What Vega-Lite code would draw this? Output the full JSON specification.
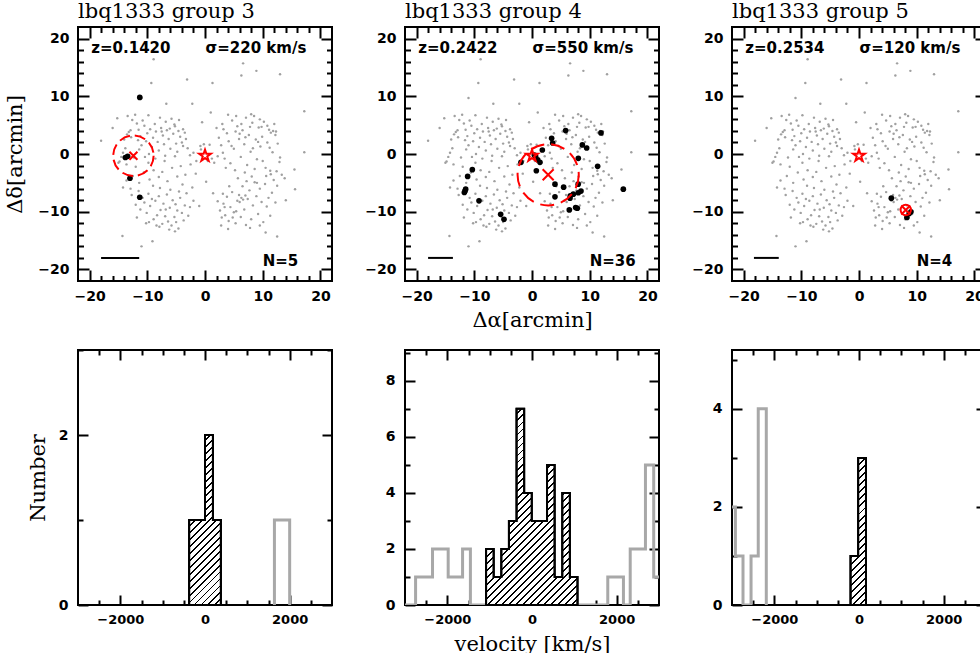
{
"$schema": "https://vega.github.io/schema/vega-lite/v6.json",
"background": "white",
"padding": {"left": 3, "top": 0, "right": 0, "bottom": 0},
"config": {
  "view": {"stroke": "black", "strokeWidth": 2},
  "axis": {"domain": false, "grid": false, "tickColor": "black", "tickWidth": 2, "labelFont": "DejaVu Sans", "labelFontWeight": "bold", "labelFontSize": 14, "labelColor": "black", "labelFlush": false, "labelOverlap": false, "titleFont": "DejaVu Serif", "titleFontSize": 21, "titleFontWeight": "normal", "titleColor": "black", "zindex": 1},
  "title": {"font": "DejaVu Serif", "fontSize": 21, "fontWeight": "normal", "color": "black", "anchor": "start", "frame": "group", "baseline": "alphabetic", "offset": 4}
},
"datasets": {
  "galaxies": [
{"x":-14.8,"y":-1.3},{"x":-14.5,"y":-0.5},{"x":-14.2,"y":0.2},{"x":-13.8,"y":1.0},{"x":-14.0,"y":2.5},{"x":-13.5,"y":3.4},{"x":-13.2,"y":3.8},{"x":-12.9,"y":4.1},{"x":-13.4,"y":6.6},{"x":-12.6,"y":5.9},{"x":-12.1,"y":6.8},{"x":-11.8,"y":5.3},{"x":-11.5,"y":4.2},{"x":-11.2,"y":3.1},{"x":-11.6,"y":2.4},{"x":-11.0,"y":1.5},{"x":-10.8,"y":5.8},{"x":-10.5,"y":4.9},{"x":-10.2,"y":2.2},{"x":-10.0,"y":3.6},{"x":-9.8,"y":6.7},{"x":-9.5,"y":4.3},{"x":-9.2,"y":1.2},{"x":-9.0,"y":2.8},{"x":-8.7,"y":5.2},{"x":-8.5,"y":3.9},{"x":-8.2,"y":2.1},{"x":-8.0,"y":0.6},{"x":-7.8,"y":6.3},{"x":-7.6,"y":4.5},{"x":-7.3,"y":3.2},{"x":-7.1,"y":1.7},{"x":-6.8,"y":5.6},{"x":-6.6,"y":4.1},{"x":-6.3,"y":2.6},{"x":-6.0,"y":0.9},{"x":-5.8,"y":6.1},{"x":-5.5,"y":3.5},{"x":-5.2,"y":4.8},{"x":-5.0,"y":1.8},{"x":-4.8,"y":0.4},{"x":-4.5,"y":5.9},{"x":-4.3,"y":3.0},{"x":-4.0,"y":2.0},{"x":-3.8,"y":4.3},{"x":-3.5,"y":3.7},{"x":-3.3,"y":2.6},{"x":-3.8,"y":1.4},{"x":-6.9,"y":-0.3},{"x":-8.6,"y":-0.8},{"x":-10.4,"y":-0.5},{"x":-12.3,"y":-0.6},{"x":-9.7,"y":0.0},{"x":-11.4,"y":0.8},{"x":-7.5,"y":3.9},{"x":-6.1,"y":4.4},{"x":-5.3,"y":5.1},{"x":-4.6,"y":4.0},{"x":-12.8,"y":2.9},{"x":-13.6,"y":-1.8},{"x":-12.0,"y":-2.2},{"x":-9.8,"y":-1.5},{"x":-7.0,"y":-1.2},{"x":-5.2,"y":-0.4},{"x":-3.0,"y":1.0},{"x":-2.6,"y":-0.2},{"x":-2.0,"y":0.2},{"x":-1.5,"y":-1.2},{"x":-0.8,"y":1.4},{"x":-0.2,"y":1.7},{"x":0.8,"y":1.6},{"x":1.2,"y":-0.8},{"x":1.6,"y":-1.5},{"x":-2.5,"y":-1.8},{"x":0.5,"y":-1.2},
{"x":-13.6,"y":-4.6},{"x":-12.5,"y":-3.8},{"x":-11.4,"y":-5.0},{"x":-10.6,"y":-3.2},{"x":-9.6,"y":-4.4},{"x":-8.9,"y":-2.8},{"x":-8.0,"y":-4.0},{"x":-7.4,"y":-3.1},{"x":-6.5,"y":-4.7},{"x":-5.7,"y":-2.4},{"x":-4.8,"y":-3.9},{"x":-4.2,"y":-2.1},{"x":-3.4,"y":-3.6},{"x":-14.2,"y":-5.8},{"x":-12.9,"y":-6.0},
{"x":-12.7,"y":-7.1},{"x":-12.0,"y":-8.8},{"x":-11.5,"y":-6.4},{"x":-11.2,"y":-9.6},{"x":-10.8,"y":-7.6},{"x":-10.5,"y":-8.4},{"x":-10.1,"y":-10.2},{"x":-9.8,"y":-6.9},{"x":-9.5,"y":-9.0},{"x":-9.2,"y":-7.8},{"x":-8.9,"y":-11.3},{"x":-8.6,"y":-8.1},{"x":-8.3,"y":-10.6},{"x":-8.0,"y":-7.3},{"x":-7.7,"y":-9.7},{"x":-7.4,"y":-12.1},{"x":-7.2,"y":-8.6},{"x":-6.9,"y":-10.8},{"x":-6.6,"y":-7.0},{"x":-6.4,"y":-11.7},{"x":-6.1,"y":-9.3},{"x":-5.8,"y":-12.4},{"x":-5.6,"y":-8.0},{"x":-5.3,"y":-10.9},{"x":-5.0,"y":-11.8},{"x":-4.8,"y":-9.8},{"x":-4.6,"y":-12.9},{"x":-4.3,"y":-7.6},{"x":-4.0,"y":-10.2},{"x":-3.7,"y":-11.5},{"x":-3.5,"y":-8.9},{"x":-3.2,"y":-6.8},{"x":-2.9,"y":-10.7},{"x":-2.6,"y":-9.2},{"x":-11.8,"y":-11.0},{"x":-10.2,"y":-12.0},{"x":-7.9,"y":-12.6},{"x":-6.2,"y":-13.1},{"x":-5.2,"y":-13.4},{"x":-9.0,"y":-5.5},{"x":-7.8,"y":-5.9},{"x":-6.0,"y":-6.2},{"x":-4.5,"y":-6.5},{"x":-3.9,"y":-5.3},{"x":-2.2,"y":-5.8},{"x":-2.0,"y":-8.1},{"x":-8.4,"y":-12.4},{"x":-9.7,"y":-11.8},{"x":-6.8,"y":-9.6},{"x":-5.1,"y":-8.7},
{"x":2.4,"y":2.8},{"x":2.8,"y":1.5},{"x":3.1,"y":0.2},{"x":3.4,"y":-0.8},{"x":3.8,"y":3.6},{"x":4.1,"y":2.2},{"x":4.4,"y":-1.6},{"x":4.7,"y":5.8},{"x":5.0,"y":0.9},{"x":5.3,"y":3.9},{"x":5.6,"y":4.8},{"x":5.9,"y":2.6},{"x":6.2,"y":-0.5},{"x":6.5,"y":4.1},{"x":6.8,"y":1.7},{"x":7.1,"y":6.3},{"x":7.3,"y":-1.9},{"x":7.6,"y":3.3},{"x":7.9,"y":0.4},{"x":8.2,"y":5.4},{"x":8.5,"y":6.6},{"x":8.8,"y":2.5},{"x":9.0,"y":-0.9},{"x":9.3,"y":4.6},{"x":9.6,"y":1.3},{"x":9.9,"y":3.0},{"x":10.2,"y":5.6},{"x":10.5,"y":-2.4},{"x":10.8,"y":2.0},{"x":11.1,"y":4.2},{"x":11.4,"y":3.7},{"x":11.7,"y":0.3},{"x":12.0,"y":5.2},{"x":12.3,"y":3.9},{"x":12.6,"y":1.8},{"x":12.9,"y":-1.4},{"x":13.3,"y":-3.6},{"x":2.0,"y":4.5},{"x":3.0,"y":5.2},{"x":4.0,"y":6.8},{"x":5.4,"y":6.6},{"x":6.3,"y":5.2},{"x":8.0,"y":6.9},{"x":9.5,"y":6.0},{"x":10.8,"y":4.9},{"x":11.8,"y":4.0},{"x":12.2,"y":3.3},{"x":9.2,"y":2.1},{"x":8.3,"y":1.0},{"x":7.0,"y":2.9},{"x":6.0,"y":3.5},{"x":4.6,"y":1.4},{"x":3.6,"y":-2.4},{"x":5.2,"y":-2.8},{"x":6.9,"y":-3.2},{"x":8.6,"y":-2.6},{"x":10.0,"y":-1.2},{"x":11.3,"y":-2.9},{"x":12.4,"y":-3.0},{"x":13.0,"y":-0.6},{"x":2.2,"y":-0.4},{"x":3.2,"y":4.3},{"x":11.2,"y":1.1},{"x":7.8,"y":4.7},{"x":9.8,"y":4.7},
{"x":2.6,"y":-9.8},{"x":2.9,"y":-11.0},{"x":3.2,"y":-8.6},{"x":3.5,"y":-10.6},{"x":3.8,"y":-7.4},{"x":4.1,"y":-11.6},{"x":4.4,"y":-9.2},{"x":4.7,"y":-6.6},{"x":5.0,"y":-10.1},{"x":5.3,"y":-12.0},{"x":5.6,"y":-8.1},{"x":5.9,"y":-7.1},{"x":6.2,"y":-10.9},{"x":6.5,"y":-5.6},{"x":6.8,"y":-9.6},{"x":7.1,"y":-12.3},{"x":7.4,"y":-7.8},{"x":7.7,"y":-6.3},{"x":8.0,"y":-11.3},{"x":8.3,"y":-8.9},{"x":8.6,"y":-4.9},{"x":8.9,"y":-7.3},{"x":9.2,"y":-10.4},{"x":9.5,"y":-6.0},{"x":9.8,"y":-8.3},{"x":10.1,"y":-11.8},{"x":10.4,"y":-5.2},{"x":10.7,"y":-9.1},{"x":11.0,"y":-7.6},{"x":11.3,"y":-10.7},{"x":11.6,"y":-6.7},{"x":11.9,"y":-4.5},{"x":12.2,"y":-8.4},{"x":6.3,"y":-7.6},{"x":6.6,"y":-7.9},{"x":7.0,"y":-7.2},{"x":6.0,"y":-8.3},{"x":5.4,"y":-9.9},{"x":4.8,"y":-11.0},{"x":3.4,"y":-9.2},{"x":2.8,"y":-12.4},{"x":4.0,"y":-13.0},{"x":7.8,"y":-12.8},{"x":9.5,"y":-12.4},{"x":10.6,"y":-3.8},{"x":8.1,"y":-3.9},{"x":5.7,"y":-4.2},{"x":4.2,"y":-5.6},{"x":3.1,"y":-6.9},{"x":2.2,"y":-8.2},{"x":12.5,"y":-5.5},{"x":11.4,"y":-3.5},{"x":9.0,"y":-5.0},{"x":7.2,"y":-4.7},
{"x":-8.9,"y":16.4},{"x":6.6,"y":15.7},{"x":6.3,"y":13.6},{"x":8.9,"y":14.4},{"x":13.0,"y":13.8},{"x":-3.1,"y":12.9},{"x":1.3,"y":12.3},{"x":-9.3,"y":12.3},{"x":-2.2,"y":8.7},{"x":-6.7,"y":8.7},{"x":-11.0,"y":9.7},{"x":-0.7,"y":0.8},{"x":17.2,"y":7.4},{"x":-18.0,"y":2.3},{"x":17.2,"y":0.3},{"x":15.5,"y":-2.7},{"x":15.6,"y":-6.1},{"x":-14.3,"y":-14.2},{"x":-11.0,"y":-16.0},{"x":-9.1,"y":-15.1},{"x":10.5,"y":-13.6},{"x":12.5,"y":-14.3},{"x":1.4,"y":-6.8},{"x":-1.0,"y":-9.0},{"x":-16.0,"y":4.5},{"x":-15.2,"y":6.2},{"x":-1.6,"y":-3.4},{"x":0.2,"y":-4.8},{"x":13.8,"y":-4.2},{"x":14.0,"y":-8.0},{"x":-0.5,"y":5.5},{"x":1.0,"y":7.2},{"x":-15.0,"y":-1.5}
  ],
  "members": [
{"g":3,"x":-11.3,"y":9.8},{"g":3,"x":-13.4,"y":-0.4},{"g":3,"x":-13.8,"y":-0.6},{"g":3,"x":-13.0,"y":-4.2},{"g":3,"x":-11.3,"y":-7.5},
{"g":4,"x":5.83,"y":4.06},{"g":4,"x":11.95,"y":3.65},{"g":4,"x":3.4,"y":2.72},{"g":4,"x":3.58,"y":1.91},{"g":4,"x":1.79,"y":0.7},{"g":4,"x":8.72,"y":1.57},{"g":4,"x":9.47,"y":1.04},{"g":4,"x":-1.91,"y":-1.45},{"g":4,"x":0.4,"y":-0.17},{"g":4,"x":0.63,"y":-0.46},{"g":4,"x":0.98,"y":-0.99},{"g":4,"x":1.38,"y":-1.45},{"g":4,"x":0.75,"y":-2.9},{"g":4,"x":8.02,"y":-0.75},{"g":4,"x":11.37,"y":-2.14},{"g":4,"x":15.82,"y":-6.09},{"g":4,"x":3.98,"y":-5.22},{"g":4,"x":5.48,"y":-5.74},{"g":4,"x":3.98,"y":-7.42},{"g":4,"x":7.16,"y":-6.96},{"g":4,"x":6.64,"y":-7.25},{"g":4,"x":8.49,"y":-6.43},{"g":4,"x":6.58,"y":-7.65},{"g":4,"x":8.02,"y":-6.72},{"g":4,"x":7.56,"y":-9.28},{"g":4,"x":7.85,"y":-9.39},{"g":4,"x":6.46,"y":-9.68},{"g":4,"x":8.0,"y":-5.22},{"g":4,"x":-10.34,"y":-2.72},{"g":4,"x":-11.15,"y":-3.88},{"g":4,"x":-11.49,"y":-6.09},{"g":4,"x":-11.72,"y":-6.67},{"g":4,"x":-11.6,"y":-6.4},{"g":4,"x":-9.18,"y":-8.12},{"g":4,"x":-5.43,"y":-10.43},{"g":4,"x":-4.85,"y":-11.3},
{"g":5,"x":5.6,"y":-7.65},{"g":5,"x":9.0,"y":-10.0},{"g":5,"x":8.3,"y":-11.0},{"g":5,"x":8.7,"y":-10.3}
  ],
  "centers": [{"g":3,"x":-12.4,"y":-0.3,"r":3.5},{"g":4,"x":2.8,"y":-3.6,"r":5.3},{"g":5,"x":8.1,"y":-9.7,"r":0.9}],
  "quasar": [{"x":0,"y":-0.3}],
  "scalebar": [{"g":3,"x":-18,"x2":-11.4,"y":-18},{"g":4,"x":-18,"x2":-13.7,"y":-18},{"g":5,"x":-18.2,"x2":-13.9,"y":-18}],
  "annot": [
{"g":3,"x":-19.7,"y":18.4,"label":"z=0.1420"},{"g":3,"x":0.1,"y":18.4,"label":"σ=220 km/s"},{"g":3,"x":10.0,"y":-18.5,"label":"N=5"},
{"g":4,"x":-19.7,"y":18.4,"label":"z=0.2422"},{"g":4,"x":0.1,"y":18.4,"label":"σ=550 km/s"},{"g":4,"x":10.0,"y":-18.5,"label":"N=36"},
{"g":5,"x":-19.7,"y":18.4,"label":"z=0.2534"},{"g":5,"x":0.1,"y":18.4,"label":"σ=120 km/s"},{"g":5,"x":10.0,"y":-18.5,"label":"N=4"}
  ],
  "greyhist": [
{"g":3,"i":0,"v":1640,"n":0},{"g":3,"i":1,"v":1640,"n":1},{"g":3,"i":2,"v":1820,"n":1},{"g":3,"i":3,"v":2000,"n":0},
{"g":4,"i":0,"v":-3000,"n":0},{"g":4,"i":1,"v":-2750,"n":1},{"g":4,"i":2,"v":-2550,"n":1},{"g":4,"i":3,"v":-2350,"n":2},{"g":4,"i":4,"v":-2165,"n":2},{"g":4,"i":5,"v":-1980,"n":1},{"g":4,"i":6,"v":-1810,"n":1},{"g":4,"i":7,"v":-1640,"n":2},{"g":4,"i":8,"v":-1455,"n":0},{"g":4,"i":9,"v":1790,"n":1},{"g":4,"i":10,"v":1975,"n":1},{"g":4,"i":11,"v":2160,"n":0},{"g":4,"i":12,"v":2320,"n":2},{"g":4,"i":13,"v":2500,"n":2},{"g":4,"i":14,"v":2680,"n":5},{"g":4,"i":15,"v":2875,"n":1},{"g":4,"i":16,"v":3000,"n":1},
{"g":5,"i":0,"v":-3000,"n":2},{"g":5,"i":1,"v":-2920,"n":1},{"g":5,"i":2,"v":-2740,"n":0},{"g":5,"i":3,"v":-2550,"n":1},{"g":5,"i":4,"v":-2380,"n":4},{"g":5,"i":5,"v":-2190,"n":0}
  ],
  "memberhist": [
{"g":3,"i":0,"v":-375,"n":0},{"g":3,"i":1,"v":-375,"n":1},{"g":3,"i":2,"v":-187.5,"n":1},{"g":3,"i":3,"v":0,"n":2},{"g":3,"i":4,"v":187.5,"n":1},{"g":3,"i":5,"v":375,"n":0},{"g":3,"i":6,"v":-375,"n":0,"close":1},
{"g":4,"i":0,"v":-1085,"n":0},{"g":4,"i":1,"v":-1085,"n":2},{"g":4,"i":2,"v":-905,"n":1},{"g":4,"i":3,"v":-725,"n":2},{"g":4,"i":4,"v":-545,"n":3},{"g":4,"i":5,"v":-365,"n":7},{"g":4,"i":6,"v":-185,"n":4},{"g":4,"i":7,"v":-5,"n":3},{"g":4,"i":8,"v":175,"n":3},{"g":4,"i":9,"v":355,"n":5},{"g":4,"i":10,"v":535,"n":1},{"g":4,"i":11,"v":715,"n":4},{"g":4,"i":12,"v":895,"n":1},{"g":4,"i":13,"v":1075,"n":0},{"g":4,"i":14,"v":-1085,"n":0,"close":1},
{"g":5,"i":0,"v":-200,"n":0},{"g":5,"i":1,"v":-200,"n":1},{"g":5,"i":2,"v":-20,"n":3},{"g":5,"i":3,"v":165,"n":0},{"g":5,"i":4,"v":-200,"n":0,"close":1}
  ]
},
"columns": 3,
"spacing": {"row": 17, "column": 29},
"concat": [
{
 "width": 254, "height": 254,
 "title": {"text": "lbq1333 group 3"},
 "resolve": {"axis": {"x": "independent", "y": "independent"}},
 "layer": [
  {"data": {"name": "galaxies"}, "mark": {"type": "circle", "size": 6, "color": "#a0a0a0", "opacity": 1},
   "encoding": {
    "x": {"field": "x", "type": "quantitative", "scale": {"domain": [-22, 22], "nice": false, "zero": false}, "axis": {"orient": "bottom", "values": [-20,-10,0,10,20], "tickSize": -11, "labelPadding": 19, "title": null}},
    "y": {"field": "y", "type": "quantitative", "scale": {"domain": [-22, 22], "nice": false, "zero": false}, "axis": {"orient": "left", "values": [-20,-10,0,10,20], "tickSize": -11, "labelPadding": 20, "title": "Δδ[arcmin]", "titlePadding": 12}}}},
  {"data": {"name": "scalebar"}, "transform": [{"filter": "datum.g === 3"}], "mark": {"type": "rule", "color": "black", "strokeWidth": 2},
   "encoding": {"x": {"field": "x", "type": "quantitative", "scale": {"domain": [-22, 22], "nice": false, "zero": false}, "axis": null}, "x2": {"field": "x2"}, "y": {"field": "y", "type": "quantitative", "scale": {"domain": [-22, 22], "nice": false, "zero": false}, "axis": null}}},
  {"data": {"name": "members"}, "transform": [{"filter": "datum.g === 3"}], "mark": {"type": "circle", "size": 32, "color": "black", "opacity": 1},
   "encoding": {"x": {"field": "x", "type": "quantitative", "scale": {"domain": [-22, 22], "nice": false, "zero": false}, "axis": {"orient": "bottom", "values": [-18,-16,-14,-12,-8,-6,-4,-2,2,4,6,8,12,14,16,18], "tickSize": -5.5, "labels": false, "title": null}}, "y": {"field": "y", "type": "quantitative", "scale": {"domain": [-22, 22], "nice": false, "zero": false}, "axis": {"orient": "left", "values": [-18,-16,-14,-12,-8,-6,-4,-2,2,4,6,8,12,14,16,18], "tickSize": -5.5, "labels": false, "title": null}}}},
  {"data": {"name": "centers"}, "transform": [{"filter": "datum.g === 3"}], "mark": {"type": "point", "shape": "circle", "filled": false, "color": "red", "strokeWidth": 2, "strokeDash": [11, 5], "opacity": 1},
   "encoding": {"x": {"field": "x", "type": "quantitative", "scale": {"domain": [-22, 22], "nice": false, "zero": false}, "axis": null}, "y": {"field": "y", "type": "quantitative", "scale": {"domain": [-22, 22], "nice": false, "zero": false}, "axis": null}, "size": {"field": "r", "type": "quantitative", "scale": {"type": "pow", "exponent": 2, "domain": [0, 10], "range": [0, 13329]}, "legend": null}}},
  {"data": {"name": "centers"}, "transform": [{"filter": "datum.g === 3"}], "mark": {"type": "point", "shape": "M-1,-1L1,1M-1,1L1,-1", "filled": false, "color": "red", "strokeWidth": 2, "size": 64, "opacity": 1},
   "encoding": {"x": {"field": "x", "type": "quantitative", "scale": {"domain": [-22, 22], "nice": false, "zero": false}, "axis": {"orient": "top", "values": [-18,-16,-14,-12,-8,-6,-4,-2,2,4,6,8,12,14,16,18], "tickSize": -5.5, "labels": false, "title": null}}, "y": {"field": "y", "type": "quantitative", "scale": {"domain": [-22, 22], "nice": false, "zero": false}, "axis": {"orient": "right", "values": [-18,-16,-14,-12,-8,-6,-4,-2,2,4,6,8,12,14,16,18], "tickSize": -5.5, "labels": false, "title": null}}}},
  {"data": {"name": "quasar"}, "mark": {"type": "point", "shape": "M0,-1L0.225,-0.309L0.951,-0.309L0.363,0.118L0.588,0.809L0,0.382L-0.588,0.809L-0.363,0.118L-0.951,-0.309L-0.225,-0.309Z", "filled": false, "color": "red", "strokeWidth": 2, "size": 150, "opacity": 1},
   "encoding": {
    "x": {"field": "x", "type": "quantitative", "scale": {"domain": [-22, 22], "nice": false, "zero": false}, "axis": {"orient": "top", "values": [-20,-10,0,10,20], "tickSize": -11, "labels": false, "title": null}},
    "y": {"field": "y", "type": "quantitative", "scale": {"domain": [-22, 22], "nice": false, "zero": false}, "axis": {"orient": "right", "values": [-20,-10,0,10,20], "tickSize": -11, "labels": false, "title": null}}}},
  {"data": {"name": "annot"}, "transform": [{"filter": "datum.g === 3"}], "mark": {"type": "text", "align": "left", "baseline": "middle", "font": "DejaVu Sans", "fontWeight": "bold", "fontSize": 15, "color": "black"},
   "encoding": {"x": {"field": "x", "type": "quantitative", "scale": {"domain": [-22, 22], "nice": false, "zero": false}, "axis": null}, "y": {"field": "y", "type": "quantitative", "scale": {"domain": [-22, 22], "nice": false, "zero": false}, "axis": null}, "text": {"field": "label"}}}
 ]
},
{
 "width": 254, "height": 254,
 "title": {"text": "lbq1333 group 4"},
 "resolve": {"axis": {"x": "independent", "y": "independent"}},
 "layer": [
  {"data": {"name": "galaxies"}, "mark": {"type": "circle", "size": 6, "color": "#a0a0a0", "opacity": 1},
   "encoding": {
    "x": {"field": "x", "type": "quantitative", "scale": {"domain": [-22, 22], "nice": false, "zero": false}, "axis": {"orient": "bottom", "values": [-20,-10,0,10,20], "tickSize": -11, "labelPadding": 19, "title": "Δα[arcmin]", "titlePadding": 6}},
    "y": {"field": "y", "type": "quantitative", "scale": {"domain": [-22, 22], "nice": false, "zero": false}, "axis": {"orient": "left", "values": [-20,-10,0,10,20], "tickSize": -11, "labelPadding": 20, "title": null}}}},
  {"data": {"name": "scalebar"}, "transform": [{"filter": "datum.g === 4"}], "mark": {"type": "rule", "color": "black", "strokeWidth": 2},
   "encoding": {"x": {"field": "x", "type": "quantitative", "scale": {"domain": [-22, 22], "nice": false, "zero": false}, "axis": null}, "x2": {"field": "x2"}, "y": {"field": "y", "type": "quantitative", "scale": {"domain": [-22, 22], "nice": false, "zero": false}, "axis": null}}},
  {"data": {"name": "members"}, "transform": [{"filter": "datum.g === 4"}], "mark": {"type": "circle", "size": 32, "color": "black", "opacity": 1},
   "encoding": {"x": {"field": "x", "type": "quantitative", "scale": {"domain": [-22, 22], "nice": false, "zero": false}, "axis": {"orient": "bottom", "values": [-18,-16,-14,-12,-8,-6,-4,-2,2,4,6,8,12,14,16,18], "tickSize": -5.5, "labels": false, "title": null}}, "y": {"field": "y", "type": "quantitative", "scale": {"domain": [-22, 22], "nice": false, "zero": false}, "axis": {"orient": "left", "values": [-18,-16,-14,-12,-8,-6,-4,-2,2,4,6,8,12,14,16,18], "tickSize": -5.5, "labels": false, "title": null}}}},
  {"data": {"name": "centers"}, "transform": [{"filter": "datum.g === 4"}], "mark": {"type": "point", "shape": "circle", "filled": false, "color": "red", "strokeWidth": 2, "strokeDash": [14, 7], "opacity": 1},
   "encoding": {"x": {"field": "x", "type": "quantitative", "scale": {"domain": [-22, 22], "nice": false, "zero": false}, "axis": null}, "y": {"field": "y", "type": "quantitative", "scale": {"domain": [-22, 22], "nice": false, "zero": false}, "axis": null}, "size": {"field": "r", "type": "quantitative", "scale": {"type": "pow", "exponent": 2, "domain": [0, 10], "range": [0, 13329]}, "legend": null}}},
  {"data": {"name": "centers"}, "transform": [{"filter": "datum.g === 4"}], "mark": {"type": "point", "shape": "M-1,-1L1,1M-1,1L1,-1", "filled": false, "color": "red", "strokeWidth": 2, "size": 121, "opacity": 1},
   "encoding": {"x": {"field": "x", "type": "quantitative", "scale": {"domain": [-22, 22], "nice": false, "zero": false}, "axis": {"orient": "top", "values": [-18,-16,-14,-12,-8,-6,-4,-2,2,4,6,8,12,14,16,18], "tickSize": -5.5, "labels": false, "title": null}}, "y": {"field": "y", "type": "quantitative", "scale": {"domain": [-22, 22], "nice": false, "zero": false}, "axis": {"orient": "right", "values": [-18,-16,-14,-12,-8,-6,-4,-2,2,4,6,8,12,14,16,18], "tickSize": -5.5, "labels": false, "title": null}}}},
  {"data": {"name": "quasar"}, "mark": {"type": "point", "shape": "M0,-1L0.225,-0.309L0.951,-0.309L0.363,0.118L0.588,0.809L0,0.382L-0.588,0.809L-0.363,0.118L-0.951,-0.309L-0.225,-0.309Z", "filled": false, "color": "red", "strokeWidth": 2, "size": 150, "opacity": 1},
   "encoding": {
    "x": {"field": "x", "type": "quantitative", "scale": {"domain": [-22, 22], "nice": false, "zero": false}, "axis": {"orient": "top", "values": [-20,-10,0,10,20], "tickSize": -11, "labels": false, "title": null}},
    "y": {"field": "y", "type": "quantitative", "scale": {"domain": [-22, 22], "nice": false, "zero": false}, "axis": {"orient": "right", "values": [-20,-10,0,10,20], "tickSize": -11, "labels": false, "title": null}}}},
  {"data": {"name": "annot"}, "transform": [{"filter": "datum.g === 4"}], "mark": {"type": "text", "align": "left", "baseline": "middle", "font": "DejaVu Sans", "fontWeight": "bold", "fontSize": 15, "color": "black"},
   "encoding": {"x": {"field": "x", "type": "quantitative", "scale": {"domain": [-22, 22], "nice": false, "zero": false}, "axis": null}, "y": {"field": "y", "type": "quantitative", "scale": {"domain": [-22, 22], "nice": false, "zero": false}, "axis": null}, "text": {"field": "label"}}}
 ]
},
{
 "width": 254, "height": 254,
 "title": {"text": "lbq1333 group 5"},
 "resolve": {"axis": {"x": "independent", "y": "independent"}},
 "layer": [
  {"data": {"name": "galaxies"}, "mark": {"type": "circle", "size": 6, "color": "#a0a0a0", "opacity": 1},
   "encoding": {
    "x": {"field": "x", "type": "quantitative", "scale": {"domain": [-22, 22], "nice": false, "zero": false}, "axis": {"orient": "bottom", "values": [-20,-10,0,10,20], "tickSize": -11, "labelPadding": 19, "title": null}},
    "y": {"field": "y", "type": "quantitative", "scale": {"domain": [-22, 22], "nice": false, "zero": false}, "axis": {"orient": "left", "values": [-20,-10,0,10,20], "tickSize": -11, "labelPadding": 20, "title": null}}}},
  {"data": {"name": "scalebar"}, "transform": [{"filter": "datum.g === 5"}], "mark": {"type": "rule", "color": "black", "strokeWidth": 2},
   "encoding": {"x": {"field": "x", "type": "quantitative", "scale": {"domain": [-22, 22], "nice": false, "zero": false}, "axis": null}, "x2": {"field": "x2"}, "y": {"field": "y", "type": "quantitative", "scale": {"domain": [-22, 22], "nice": false, "zero": false}, "axis": null}}},
  {"data": {"name": "members"}, "transform": [{"filter": "datum.g === 5"}], "mark": {"type": "circle", "size": 32, "color": "black", "opacity": 1},
   "encoding": {"x": {"field": "x", "type": "quantitative", "scale": {"domain": [-22, 22], "nice": false, "zero": false}, "axis": {"orient": "bottom", "values": [-18,-16,-14,-12,-8,-6,-4,-2,2,4,6,8,12,14,16,18], "tickSize": -5.5, "labels": false, "title": null}}, "y": {"field": "y", "type": "quantitative", "scale": {"domain": [-22, 22], "nice": false, "zero": false}, "axis": {"orient": "left", "values": [-18,-16,-14,-12,-8,-6,-4,-2,2,4,6,8,12,14,16,18], "tickSize": -5.5, "labels": false, "title": null}}}},
  {"data": {"name": "centers"}, "transform": [{"filter": "datum.g === 5"}], "mark": {"type": "point", "shape": "circle", "filled": false, "color": "red", "strokeWidth": 2, "opacity": 1},
   "encoding": {"x": {"field": "x", "type": "quantitative", "scale": {"domain": [-22, 22], "nice": false, "zero": false}, "axis": null}, "y": {"field": "y", "type": "quantitative", "scale": {"domain": [-22, 22], "nice": false, "zero": false}, "axis": null}, "size": {"field": "r", "type": "quantitative", "scale": {"type": "pow", "exponent": 2, "domain": [0, 10], "range": [0, 13329]}, "legend": null}}},
  {"data": {"name": "centers"}, "transform": [{"filter": "datum.g === 5"}], "mark": {"type": "point", "shape": "M-1,-1L1,1M-1,1L1,-1", "filled": false, "color": "red", "strokeWidth": 2, "size": 81, "opacity": 1},
   "encoding": {"x": {"field": "x", "type": "quantitative", "scale": {"domain": [-22, 22], "nice": false, "zero": false}, "axis": {"orient": "top", "values": [-18,-16,-14,-12,-8,-6,-4,-2,2,4,6,8,12,14,16,18], "tickSize": -5.5, "labels": false, "title": null}}, "y": {"field": "y", "type": "quantitative", "scale": {"domain": [-22, 22], "nice": false, "zero": false}, "axis": {"orient": "right", "values": [-18,-16,-14,-12,-8,-6,-4,-2,2,4,6,8,12,14,16,18], "tickSize": -5.5, "labels": false, "title": null}}}},
  {"data": {"name": "quasar"}, "mark": {"type": "point", "shape": "M0,-1L0.225,-0.309L0.951,-0.309L0.363,0.118L0.588,0.809L0,0.382L-0.588,0.809L-0.363,0.118L-0.951,-0.309L-0.225,-0.309Z", "filled": false, "color": "red", "strokeWidth": 2, "size": 150, "opacity": 1},
   "encoding": {
    "x": {"field": "x", "type": "quantitative", "scale": {"domain": [-22, 22], "nice": false, "zero": false}, "axis": {"orient": "top", "values": [-20,-10,0,10,20], "tickSize": -11, "labels": false, "title": null}},
    "y": {"field": "y", "type": "quantitative", "scale": {"domain": [-22, 22], "nice": false, "zero": false}, "axis": {"orient": "right", "values": [-20,-10,0,10,20], "tickSize": -11, "labels": false, "title": null}}}},
  {"data": {"name": "annot"}, "transform": [{"filter": "datum.g === 5"}], "mark": {"type": "text", "align": "left", "baseline": "middle", "font": "DejaVu Sans", "fontWeight": "bold", "fontSize": 15, "color": "black"},
   "encoding": {"x": {"field": "x", "type": "quantitative", "scale": {"domain": [-22, 22], "nice": false, "zero": false}, "axis": null}, "y": {"field": "y", "type": "quantitative", "scale": {"domain": [-22, 22], "nice": false, "zero": false}, "axis": null}, "text": {"field": "label"}}}
 ]
},
{
 "width": 254, "height": 255,
 "resolve": {"axis": {"x": "independent", "y": "independent"}},
 "layer": [
  {"data": {"name": "greyhist"}, "transform": [{"filter": "datum.g === 3"}], "mark": {"type": "line", "interpolate": "step-after", "color": "#a8a8a8", "strokeWidth": 3, "clip": true},
   "encoding": {
    "x": {"field": "v", "type": "quantitative", "scale": {"domain": [-3000, 3000], "nice": false, "zero": false}, "axis": {"orient": "bottom", "values": [-2000,0,2000], "tickSize": -10, "labelPadding": 18, "format": "d", "labelFontSize": 13, "title": null}},
    "y": {"field": "n", "type": "quantitative", "scale": {"domain": [0, 3], "nice": false, "zero": false}, "axis": {"orient": "left", "values": [0,2], "tickSize": -10, "labelPadding": 20, "title": "Number", "titlePadding": 10}},
    "order": {"field": "i", "type": "quantitative"}}},
  {"data": {"name": "memberhist"}, "transform": [{"filter": "datum.g === 3 && datum.i > 0 && !datum.close"}],
   "mark": {"type": "area", "interpolate": "step-after", "fill": {"gradient": "linear", "x1": 0, "y1": 0, "x2": 0.2142, "y2": 1.1468, "stops": [
{"offset":0,"color":"#000"},{"offset":0.0093,"color":"#000"},{"offset":0.0093,"color":"#fff"},{"offset":0.0345,"color":"#fff"},
{"offset":0.0345,"color":"#000"},{"offset":0.0438,"color":"#000"},{"offset":0.0438,"color":"#fff"},{"offset":0.0690,"color":"#fff"},
{"offset":0.0690,"color":"#000"},{"offset":0.0783,"color":"#000"},{"offset":0.0783,"color":"#fff"},{"offset":0.1034,"color":"#fff"},
{"offset":0.1034,"color":"#000"},{"offset":0.1127,"color":"#000"},{"offset":0.1127,"color":"#fff"},{"offset":0.1379,"color":"#fff"},
{"offset":0.1379,"color":"#000"},{"offset":0.1472,"color":"#000"},{"offset":0.1472,"color":"#fff"},{"offset":0.1724,"color":"#fff"},
{"offset":0.1724,"color":"#000"},{"offset":0.1817,"color":"#000"},{"offset":0.1817,"color":"#fff"},{"offset":0.2069,"color":"#fff"},
{"offset":0.2069,"color":"#000"},{"offset":0.2162,"color":"#000"},{"offset":0.2162,"color":"#fff"},{"offset":0.2414,"color":"#fff"},
{"offset":0.2414,"color":"#000"},{"offset":0.2507,"color":"#000"},{"offset":0.2507,"color":"#fff"},{"offset":0.2759,"color":"#fff"},
{"offset":0.2759,"color":"#000"},{"offset":0.2852,"color":"#000"},{"offset":0.2852,"color":"#fff"},{"offset":0.3103,"color":"#fff"},
{"offset":0.3103,"color":"#000"},{"offset":0.3196,"color":"#000"},{"offset":0.3196,"color":"#fff"},{"offset":0.3448,"color":"#fff"},
{"offset":0.3448,"color":"#000"},{"offset":0.3541,"color":"#000"},{"offset":0.3541,"color":"#fff"},{"offset":0.3793,"color":"#fff"},
{"offset":0.3793,"color":"#000"},{"offset":0.3886,"color":"#000"},{"offset":0.3886,"color":"#fff"},{"offset":0.4138,"color":"#fff"},
{"offset":0.4138,"color":"#000"},{"offset":0.4231,"color":"#000"},{"offset":0.4231,"color":"#fff"},{"offset":0.4483,"color":"#fff"},
{"offset":0.4483,"color":"#000"},{"offset":0.4576,"color":"#000"},{"offset":0.4576,"color":"#fff"},{"offset":0.4828,"color":"#fff"},
{"offset":0.4828,"color":"#000"},{"offset":0.4921,"color":"#000"},{"offset":0.4921,"color":"#fff"},{"offset":0.5172,"color":"#fff"},
{"offset":0.5172,"color":"#000"},{"offset":0.5265,"color":"#000"},{"offset":0.5265,"color":"#fff"},{"offset":0.5517,"color":"#fff"},
{"offset":0.5517,"color":"#000"},{"offset":0.5610,"color":"#000"},{"offset":0.5610,"color":"#fff"},{"offset":0.5862,"color":"#fff"},
{"offset":0.5862,"color":"#000"},{"offset":0.5955,"color":"#000"},{"offset":0.5955,"color":"#fff"},{"offset":0.6207,"color":"#fff"},
{"offset":0.6207,"color":"#000"},{"offset":0.6300,"color":"#000"},{"offset":0.6300,"color":"#fff"},{"offset":0.6552,"color":"#fff"},
{"offset":0.6552,"color":"#000"},{"offset":0.6645,"color":"#000"},{"offset":0.6645,"color":"#fff"},{"offset":0.6897,"color":"#fff"},
{"offset":0.6897,"color":"#000"},{"offset":0.6990,"color":"#000"},{"offset":0.6990,"color":"#fff"},{"offset":0.7241,"color":"#fff"},
{"offset":0.7241,"color":"#000"},{"offset":0.7334,"color":"#000"},{"offset":0.7334,"color":"#fff"},{"offset":0.7586,"color":"#fff"},
{"offset":0.7586,"color":"#000"},{"offset":0.7679,"color":"#000"},{"offset":0.7679,"color":"#fff"},{"offset":0.7931,"color":"#fff"},
{"offset":0.7931,"color":"#000"},{"offset":0.8024,"color":"#000"},{"offset":0.8024,"color":"#fff"},{"offset":0.8276,"color":"#fff"},
{"offset":0.8276,"color":"#000"},{"offset":0.8369,"color":"#000"},{"offset":0.8369,"color":"#fff"},{"offset":0.8621,"color":"#fff"},
{"offset":0.8621,"color":"#000"},{"offset":0.8714,"color":"#000"},{"offset":0.8714,"color":"#fff"},{"offset":0.8966,"color":"#fff"},
{"offset":0.8966,"color":"#000"},{"offset":0.9059,"color":"#000"},{"offset":0.9059,"color":"#fff"},{"offset":0.9310,"color":"#fff"},
{"offset":0.9310,"color":"#000"},{"offset":0.9403,"color":"#000"},{"offset":0.9403,"color":"#fff"},{"offset":0.9655,"color":"#fff"},
{"offset":0.9655,"color":"#000"},{"offset":0.9748,"color":"#000"},{"offset":0.9748,"color":"#fff"},{"offset":1,"color":"#fff"}
   ]}},
   "encoding": {"x": {"field": "v", "type": "quantitative", "scale": {"domain": [-3000, 3000], "nice": false, "zero": false}, "axis": {"orient": "bottom", "values": [-2500,-1500,-1000,-500,500,1000,1500,2500], "tickSize": -5, "labels": false, "title": null}}, "y": {"field": "n", "type": "quantitative", "scale": {"domain": [0, 3], "nice": false, "zero": false}, "axis": {"orient": "left", "values": [1,3], "tickSize": -5, "labels": false, "title": null}}}},
  {"data": {"name": "memberhist"}, "transform": [{"filter": "datum.g === 3"}], "mark": {"type": "line", "interpolate": "step-after", "color": "black", "strokeWidth": 2},
   "encoding": {
    "x": {"field": "v", "type": "quantitative", "scale": {"domain": [-3000, 3000], "nice": false, "zero": false}, "axis": {"orient": "top", "values": [-2000,0,2000], "tickSize": -10, "labels": false, "title": null}},
    "y": {"field": "n", "type": "quantitative", "scale": {"domain": [0, 3], "nice": false, "zero": false}, "axis": {"orient": "right", "values": [0,2], "tickSize": -10, "labels": false, "title": null}},
    "order": {"field": "i", "type": "quantitative"}}},
  {"data": {"name": "memberhist"}, "transform": [{"filter": "datum.g === 3 && !datum.close"}], "mark": {"type": "line", "interpolate": "step-after", "color": "black", "strokeWidth": 2},
   "encoding": {
    "x": {"field": "v", "type": "quantitative", "scale": {"domain": [-3000, 3000], "nice": false, "zero": false}, "axis": {"orient": "top", "values": [-2500,-1500,-1000,-500,500,1000,1500,2500], "tickSize": -5, "labels": false, "title": null}},
    "y": {"field": "n", "type": "quantitative", "scale": {"domain": [0, 3], "nice": false, "zero": false}, "axis": {"orient": "right", "values": [1,3], "tickSize": -5, "labels": false, "title": null}},
    "order": {"field": "i", "type": "quantitative"}}}
 ]
},
{
 "width": 254, "height": 255,
 "resolve": {"axis": {"x": "independent", "y": "independent"}},
 "layer": [
  {"data": {"name": "greyhist"}, "transform": [{"filter": "datum.g === 4"}], "mark": {"type": "line", "interpolate": "step-after", "color": "#a8a8a8", "strokeWidth": 3, "clip": true},
   "encoding": {
    "x": {"field": "v", "type": "quantitative", "scale": {"domain": [-3000, 3000], "nice": false, "zero": false}, "axis": {"orient": "bottom", "values": [-2000,0,2000], "tickSize": -10, "labelPadding": 18, "format": "d", "labelFontSize": 13, "title": "velocity [km/s]", "titlePadding": 7}},
    "y": {"field": "n", "type": "quantitative", "scale": {"domain": [0, 9.1], "nice": false, "zero": false}, "axis": {"orient": "left", "values": [0,2,4,6,8], "tickSize": -10, "labelPadding": 20, "title": null}},
    "order": {"field": "i", "type": "quantitative"}}},
  {"data": {"name": "memberhist"}, "transform": [{"filter": "datum.g === 4 && datum.i > 0 && !datum.close"}],
   "mark": {"type": "area", "interpolate": "step-after", "fill": {"gradient": "linear", "x1": 0, "y1": 0, "x2": 0.5615, "y2": 1.2044, "stops": [
{"offset":0,"color":"#000"},{"offset":0.0066,"color":"#000"},{"offset":0.0066,"color":"#fff"},{"offset":0.0244,"color":"#fff"},
{"offset":0.0244,"color":"#000"},{"offset":0.0310,"color":"#000"},{"offset":0.0310,"color":"#fff"},{"offset":0.0488,"color":"#fff"},
{"offset":0.0488,"color":"#000"},{"offset":0.0554,"color":"#000"},{"offset":0.0554,"color":"#fff"},{"offset":0.0732,"color":"#fff"},
{"offset":0.0732,"color":"#000"},{"offset":0.0798,"color":"#000"},{"offset":0.0798,"color":"#fff"},{"offset":0.0976,"color":"#fff"},
{"offset":0.0976,"color":"#000"},{"offset":0.1042,"color":"#000"},{"offset":0.1042,"color":"#fff"},{"offset":0.1220,"color":"#fff"},
{"offset":0.1220,"color":"#000"},{"offset":0.1286,"color":"#000"},{"offset":0.1286,"color":"#fff"},{"offset":0.1463,"color":"#fff"},
{"offset":0.1463,"color":"#000"},{"offset":0.1529,"color":"#000"},{"offset":0.1529,"color":"#fff"},{"offset":0.1707,"color":"#fff"},
{"offset":0.1707,"color":"#000"},{"offset":0.1773,"color":"#000"},{"offset":0.1773,"color":"#fff"},{"offset":0.1951,"color":"#fff"},
{"offset":0.1951,"color":"#000"},{"offset":0.2017,"color":"#000"},{"offset":0.2017,"color":"#fff"},{"offset":0.2195,"color":"#fff"},
{"offset":0.2195,"color":"#000"},{"offset":0.2261,"color":"#000"},{"offset":0.2261,"color":"#fff"},{"offset":0.2439,"color":"#fff"},
{"offset":0.2439,"color":"#000"},{"offset":0.2505,"color":"#000"},{"offset":0.2505,"color":"#fff"},{"offset":0.2683,"color":"#fff"},
{"offset":0.2683,"color":"#000"},{"offset":0.2749,"color":"#000"},{"offset":0.2749,"color":"#fff"},{"offset":0.2927,"color":"#fff"},
{"offset":0.2927,"color":"#000"},{"offset":0.2993,"color":"#000"},{"offset":0.2993,"color":"#fff"},{"offset":0.3171,"color":"#fff"},
{"offset":0.3171,"color":"#000"},{"offset":0.3237,"color":"#000"},{"offset":0.3237,"color":"#fff"},{"offset":0.3415,"color":"#fff"},
{"offset":0.3415,"color":"#000"},{"offset":0.3481,"color":"#000"},{"offset":0.3481,"color":"#fff"},{"offset":0.3659,"color":"#fff"},
{"offset":0.3659,"color":"#000"},{"offset":0.3725,"color":"#000"},{"offset":0.3725,"color":"#fff"},{"offset":0.3902,"color":"#fff"},
{"offset":0.3902,"color":"#000"},{"offset":0.3968,"color":"#000"},{"offset":0.3968,"color":"#fff"},{"offset":0.4146,"color":"#fff"},
{"offset":0.4146,"color":"#000"},{"offset":0.4212,"color":"#000"},{"offset":0.4212,"color":"#fff"},{"offset":0.4390,"color":"#fff"},
{"offset":0.4390,"color":"#000"},{"offset":0.4456,"color":"#000"},{"offset":0.4456,"color":"#fff"},{"offset":0.4634,"color":"#fff"},
{"offset":0.4634,"color":"#000"},{"offset":0.4700,"color":"#000"},{"offset":0.4700,"color":"#fff"},{"offset":0.4878,"color":"#fff"},
{"offset":0.4878,"color":"#000"},{"offset":0.4944,"color":"#000"},{"offset":0.4944,"color":"#fff"},{"offset":0.5122,"color":"#fff"},
{"offset":0.5122,"color":"#000"},{"offset":0.5188,"color":"#000"},{"offset":0.5188,"color":"#fff"},{"offset":0.5366,"color":"#fff"},
{"offset":0.5366,"color":"#000"},{"offset":0.5432,"color":"#000"},{"offset":0.5432,"color":"#fff"},{"offset":0.5610,"color":"#fff"},
{"offset":0.5610,"color":"#000"},{"offset":0.5676,"color":"#000"},{"offset":0.5676,"color":"#fff"},{"offset":0.5854,"color":"#fff"},
{"offset":0.5854,"color":"#000"},{"offset":0.5920,"color":"#000"},{"offset":0.5920,"color":"#fff"},{"offset":0.6098,"color":"#fff"},
{"offset":0.6098,"color":"#000"},{"offset":0.6164,"color":"#000"},{"offset":0.6164,"color":"#fff"},{"offset":0.6341,"color":"#fff"},
{"offset":0.6341,"color":"#000"},{"offset":0.6407,"color":"#000"},{"offset":0.6407,"color":"#fff"},{"offset":0.6585,"color":"#fff"},
{"offset":0.6585,"color":"#000"},{"offset":0.6651,"color":"#000"},{"offset":0.6651,"color":"#fff"},{"offset":0.6829,"color":"#fff"},
{"offset":0.6829,"color":"#000"},{"offset":0.6895,"color":"#000"},{"offset":0.6895,"color":"#fff"},{"offset":0.7073,"color":"#fff"},
{"offset":0.7073,"color":"#000"},{"offset":0.7139,"color":"#000"},{"offset":0.7139,"color":"#fff"},{"offset":0.7317,"color":"#fff"},
{"offset":0.7317,"color":"#000"},{"offset":0.7383,"color":"#000"},{"offset":0.7383,"color":"#fff"},{"offset":0.7561,"color":"#fff"},
{"offset":0.7561,"color":"#000"},{"offset":0.7627,"color":"#000"},{"offset":0.7627,"color":"#fff"},{"offset":0.7805,"color":"#fff"},
{"offset":0.7805,"color":"#000"},{"offset":0.7871,"color":"#000"},{"offset":0.7871,"color":"#fff"},{"offset":0.8049,"color":"#fff"},
{"offset":0.8049,"color":"#000"},{"offset":0.8115,"color":"#000"},{"offset":0.8115,"color":"#fff"},{"offset":0.8293,"color":"#fff"},
{"offset":0.8293,"color":"#000"},{"offset":0.8359,"color":"#000"},{"offset":0.8359,"color":"#fff"},{"offset":0.8537,"color":"#fff"},
{"offset":0.8537,"color":"#000"},{"offset":0.8603,"color":"#000"},{"offset":0.8603,"color":"#fff"},{"offset":0.8780,"color":"#fff"},
{"offset":0.8780,"color":"#000"},{"offset":0.8846,"color":"#000"},{"offset":0.8846,"color":"#fff"},{"offset":0.9024,"color":"#fff"},
{"offset":0.9024,"color":"#000"},{"offset":0.9090,"color":"#000"},{"offset":0.9090,"color":"#fff"},{"offset":0.9268,"color":"#fff"},
{"offset":0.9268,"color":"#000"},{"offset":0.9334,"color":"#000"},{"offset":0.9334,"color":"#fff"},{"offset":0.9512,"color":"#fff"},
{"offset":0.9512,"color":"#000"},{"offset":0.9578,"color":"#000"},{"offset":0.9578,"color":"#fff"},{"offset":0.9756,"color":"#fff"},
{"offset":0.9756,"color":"#000"},{"offset":0.9822,"color":"#000"},{"offset":0.9822,"color":"#fff"},{"offset":1,"color":"#fff"}
   ]}},
   "encoding": {"x": {"field": "v", "type": "quantitative", "scale": {"domain": [-3000, 3000], "nice": false, "zero": false}, "axis": {"orient": "bottom", "values": [-2500,-1500,-1000,-500,500,1000,1500,2500], "tickSize": -5, "labels": false, "title": null}}, "y": {"field": "n", "type": "quantitative", "scale": {"domain": [0, 9.1], "nice": false, "zero": false}, "axis": {"orient": "left", "values": [1,3,5,7,9], "tickSize": -5, "labels": false, "title": null}}}},
  {"data": {"name": "memberhist"}, "transform": [{"filter": "datum.g === 4"}], "mark": {"type": "line", "interpolate": "step-after", "color": "black", "strokeWidth": 2},
   "encoding": {
    "x": {"field": "v", "type": "quantitative", "scale": {"domain": [-3000, 3000], "nice": false, "zero": false}, "axis": {"orient": "top", "values": [-2000,0,2000], "tickSize": -10, "labels": false, "title": null}},
    "y": {"field": "n", "type": "quantitative", "scale": {"domain": [0, 9.1], "nice": false, "zero": false}, "axis": {"orient": "right", "values": [0,2,4,6,8], "tickSize": -10, "labels": false, "title": null}},
    "order": {"field": "i", "type": "quantitative"}}},
  {"data": {"name": "memberhist"}, "transform": [{"filter": "datum.g === 4 && !datum.close"}], "mark": {"type": "line", "interpolate": "step-after", "color": "black", "strokeWidth": 2},
   "encoding": {
    "x": {"field": "v", "type": "quantitative", "scale": {"domain": [-3000, 3000], "nice": false, "zero": false}, "axis": {"orient": "top", "values": [-2500,-1500,-1000,-500,500,1000,1500,2500], "tickSize": -5, "labels": false, "title": null}},
    "y": {"field": "n", "type": "quantitative", "scale": {"domain": [0, 9.1], "nice": false, "zero": false}, "axis": {"orient": "right", "values": [1,3,5,7,9], "tickSize": -5, "labels": false, "title": null}},
    "order": {"field": "i", "type": "quantitative"}}}
 ]
},
{
 "width": 254, "height": 255,
 "resolve": {"axis": {"x": "independent", "y": "independent"}},
 "layer": [
  {"data": {"name": "greyhist"}, "transform": [{"filter": "datum.g === 5"}], "mark": {"type": "line", "interpolate": "step-after", "color": "#a8a8a8", "strokeWidth": 3, "clip": true},
   "encoding": {
    "x": {"field": "v", "type": "quantitative", "scale": {"domain": [-3000, 3000], "nice": false, "zero": false}, "axis": {"orient": "bottom", "values": [-2000,0,2000], "tickSize": -10, "labelPadding": 18, "format": "d", "labelFontSize": 13, "title": null}},
    "y": {"field": "n", "type": "quantitative", "scale": {"domain": [0, 5.2], "nice": false, "zero": false}, "axis": {"orient": "left", "values": [0,2,4], "tickSize": -10, "labelPadding": 20, "title": null}},
    "order": {"field": "i", "type": "quantitative"}}},
  {"data": {"name": "memberhist"}, "transform": [{"filter": "datum.g === 5 && datum.i > 0 && !datum.close"}],
   "mark": {"type": "area", "interpolate": "step-after", "fill": {"gradient": "linear", "x1": 0, "y1": 0, "x2": 0.1148, "y2": 1.0930, "stops": [
{"offset":0,"color":"#000"},{"offset":0.0117,"color":"#000"},{"offset":0.0117,"color":"#fff"},{"offset":0.0435,"color":"#fff"},
{"offset":0.0435,"color":"#000"},{"offset":0.0552,"color":"#000"},{"offset":0.0552,"color":"#fff"},{"offset":0.0870,"color":"#fff"},
{"offset":0.0870,"color":"#000"},{"offset":0.0987,"color":"#000"},{"offset":0.0987,"color":"#fff"},{"offset":0.1304,"color":"#fff"},
{"offset":0.1304,"color":"#000"},{"offset":0.1421,"color":"#000"},{"offset":0.1421,"color":"#fff"},{"offset":0.1739,"color":"#fff"},
{"offset":0.1739,"color":"#000"},{"offset":0.1856,"color":"#000"},{"offset":0.1856,"color":"#fff"},{"offset":0.2174,"color":"#fff"},
{"offset":0.2174,"color":"#000"},{"offset":0.2291,"color":"#000"},{"offset":0.2291,"color":"#fff"},{"offset":0.2609,"color":"#fff"},
{"offset":0.2609,"color":"#000"},{"offset":0.2726,"color":"#000"},{"offset":0.2726,"color":"#fff"},{"offset":0.3043,"color":"#fff"},
{"offset":0.3043,"color":"#000"},{"offset":0.3160,"color":"#000"},{"offset":0.3160,"color":"#fff"},{"offset":0.3478,"color":"#fff"},
{"offset":0.3478,"color":"#000"},{"offset":0.3595,"color":"#000"},{"offset":0.3595,"color":"#fff"},{"offset":0.3913,"color":"#fff"},
{"offset":0.3913,"color":"#000"},{"offset":0.4030,"color":"#000"},{"offset":0.4030,"color":"#fff"},{"offset":0.4348,"color":"#fff"},
{"offset":0.4348,"color":"#000"},{"offset":0.4465,"color":"#000"},{"offset":0.4465,"color":"#fff"},{"offset":0.4783,"color":"#fff"},
{"offset":0.4783,"color":"#000"},{"offset":0.4900,"color":"#000"},{"offset":0.4900,"color":"#fff"},{"offset":0.5217,"color":"#fff"},
{"offset":0.5217,"color":"#000"},{"offset":0.5334,"color":"#000"},{"offset":0.5334,"color":"#fff"},{"offset":0.5652,"color":"#fff"},
{"offset":0.5652,"color":"#000"},{"offset":0.5769,"color":"#000"},{"offset":0.5769,"color":"#fff"},{"offset":0.6087,"color":"#fff"},
{"offset":0.6087,"color":"#000"},{"offset":0.6204,"color":"#000"},{"offset":0.6204,"color":"#fff"},{"offset":0.6522,"color":"#fff"},
{"offset":0.6522,"color":"#000"},{"offset":0.6639,"color":"#000"},{"offset":0.6639,"color":"#fff"},{"offset":0.6957,"color":"#fff"},
{"offset":0.6957,"color":"#000"},{"offset":0.7074,"color":"#000"},{"offset":0.7074,"color":"#fff"},{"offset":0.7391,"color":"#fff"},
{"offset":0.7391,"color":"#000"},{"offset":0.7508,"color":"#000"},{"offset":0.7508,"color":"#fff"},{"offset":0.7826,"color":"#fff"},
{"offset":0.7826,"color":"#000"},{"offset":0.7943,"color":"#000"},{"offset":0.7943,"color":"#fff"},{"offset":0.8261,"color":"#fff"},
{"offset":0.8261,"color":"#000"},{"offset":0.8378,"color":"#000"},{"offset":0.8378,"color":"#fff"},{"offset":0.8696,"color":"#fff"},
{"offset":0.8696,"color":"#000"},{"offset":0.8813,"color":"#000"},{"offset":0.8813,"color":"#fff"},{"offset":0.9130,"color":"#fff"},
{"offset":0.9130,"color":"#000"},{"offset":0.9247,"color":"#000"},{"offset":0.9247,"color":"#fff"},{"offset":0.9565,"color":"#fff"},
{"offset":0.9565,"color":"#000"},{"offset":0.9682,"color":"#000"},{"offset":0.9682,"color":"#fff"},{"offset":1,"color":"#fff"}
   ]}},
   "encoding": {"x": {"field": "v", "type": "quantitative", "scale": {"domain": [-3000, 3000], "nice": false, "zero": false}, "axis": {"orient": "bottom", "values": [-2500,-1500,-1000,-500,500,1000,1500,2500], "tickSize": -5, "labels": false, "title": null}}, "y": {"field": "n", "type": "quantitative", "scale": {"domain": [0, 5.2], "nice": false, "zero": false}, "axis": {"orient": "left", "values": [1,3,5], "tickSize": -5, "labels": false, "title": null}}}},
  {"data": {"name": "memberhist"}, "transform": [{"filter": "datum.g === 5"}], "mark": {"type": "line", "interpolate": "step-after", "color": "black", "strokeWidth": 2},
   "encoding": {
    "x": {"field": "v", "type": "quantitative", "scale": {"domain": [-3000, 3000], "nice": false, "zero": false}, "axis": {"orient": "top", "values": [-2000,0,2000], "tickSize": -10, "labels": false, "title": null}},
    "y": {"field": "n", "type": "quantitative", "scale": {"domain": [0, 5.2], "nice": false, "zero": false}, "axis": {"orient": "right", "values": [0,2,4], "tickSize": -10, "labels": false, "title": null}},
    "order": {"field": "i", "type": "quantitative"}}},
  {"data": {"name": "memberhist"}, "transform": [{"filter": "datum.g === 5 && !datum.close"}], "mark": {"type": "line", "interpolate": "step-after", "color": "black", "strokeWidth": 2},
   "encoding": {
    "x": {"field": "v", "type": "quantitative", "scale": {"domain": [-3000, 3000], "nice": false, "zero": false}, "axis": {"orient": "top", "values": [-2500,-1500,-1000,-500,500,1000,1500,2500], "tickSize": -5, "labels": false, "title": null}},
    "y": {"field": "n", "type": "quantitative", "scale": {"domain": [0, 5.2], "nice": false, "zero": false}, "axis": {"orient": "right", "values": [1,3,5], "tickSize": -5, "labels": false, "title": null}},
    "order": {"field": "i", "type": "quantitative"}}}
 ]
}
]
}
